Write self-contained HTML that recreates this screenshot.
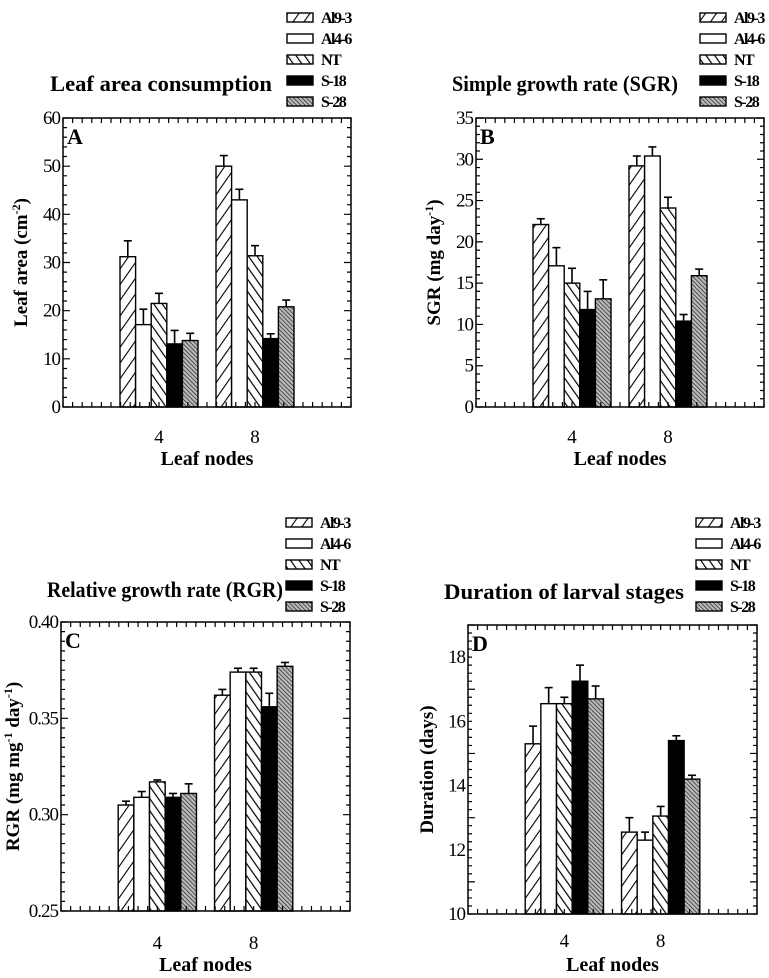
<!DOCTYPE html>
<html><head><meta charset="utf-8"><style>
html,body{margin:0;padding:0;background:#fff;}
svg{display:block;font-family:"Liberation Serif",serif;}
</style></head><body>
<svg id="fig" width="769" height="978" viewBox="0 0 769 978" xmlns="http://www.w3.org/2000/svg">
<defs>
<pattern id="pFwd" patternUnits="userSpaceOnUse" width="9" height="9" patternTransform="rotate(35)"><rect width="9" height="9" fill="#fff"/><line x1="0" y1="0" x2="0" y2="9" stroke="#000" stroke-width="2.2"/></pattern>
<pattern id="pBack" patternUnits="userSpaceOnUse" width="7" height="7" patternTransform="rotate(-35)"><rect width="7" height="7" fill="#fff"/><line x1="0" y1="0" x2="0" y2="7" stroke="#000" stroke-width="2.4"/></pattern>
<pattern id="pDense" patternUnits="userSpaceOnUse" width="3" height="3" patternTransform="rotate(-45)"><rect width="3" height="3" fill="#bbb"/><line x1="0" y1="0" x2="0" y2="3" stroke="#222" stroke-width="1.4"/></pattern>
</defs>
</svg>
<script>
const seriesNames = ["Al9-3","Al4-6","NT","S-18","S-28"];
const categories = [4, 8];
const aValues = [[31.2,17.1,21.5,13.1,13.8],[50,43,31.4,14.2,20.8]];
const aErrors = [[3.3,3.2,2.1,2.8,1.5],[2.2,2.2,2.1,1.0,1.4]];
const bValues = [[22.1,17.1,15.0,11.8,13.1],[29.2,30.4,24.1,10.4,15.9]];
const bErrors = [[0.7,2.2,1.8,2.2,2.3],[1.2,1.1,1.3,0.8,0.8]];
const cValues = [[0.305,0.309,0.317,0.309,0.311],[0.362,0.374,0.374,0.356,0.377]];
const cErrors = [[0.002,0.003,0.001,0.002,0.005],[0.003,0.002,0.002,0.007,0.002]];
const dValues = [[15.3,16.55,16.55,17.25,16.7],[12.55,12.3,13.05,15.4,14.2]];
const dErrors = [[0.55,0.5,0.2,0.5,0.4],[0.45,0.25,0.3,0.15,0.12]];
const aTicks = [0,10,20,30,40,50,60];
const bTicks = [0,5,10,15,20,25,30,35];
const cTicks = ["0.25","0.30","0.35","0.40"];
const dTicks = [10,12,14,16,18];

const NS="http://www.w3.org/2000/svg";
const svg=document.getElementById('fig');
const fills=["url(#pFwd)","#fff","url(#pBack)","#000","url(#pDense)"];
function mk(tag,attrs,parent,text){const e=document.createElementNS(NS,tag);for(const k in attrs)e.setAttribute(k,attrs[k]);if(text!==undefined)e.textContent=text;(parent||svg).appendChild(e);return e;}

function panel(o){
  const g=mk('g',{});
  
  
  const {x,y,w,h,ymin,ymax}=o;
  const sx=v=>x+v/12*w;
  const sy=v=>y+h-(v-ymin)/(ymax-ymin)*h;
  const bw=0.65;
  categories.forEach((c,ci)=>{
    o.values[ci].forEach((v,si)=>{
      const x0=sx(c-2.5*bw+si*bw);
      const yt=sy(v), ye=sy(v+o.errors[ci][si]);
      const cx=x0+bw/12*w/2;
      const el=mk('line',{x1:cx,x2:cx,y1:yt,y2:ye,stroke:'#000','stroke-width':1.6},g);
      
      
      const cap=mk('line',{x1:cx-4,x2:cx+4,y1:ye,y2:ye,stroke:'#000','stroke-width':1.6},g);
      
      
      const r=mk('rect',{x:x0,y:yt,width:bw/12*w,height:sy(ymin)-yt,fill:fills[si],stroke:'#000','stroke-width':1.4},g);
      
      
    });
  });
  const fr=mk('rect',{x:x,y:y,width:w,height:h,fill:'none',stroke:'#000','stroke-width':1.5},g);
  
  
  let p='';
  for(let i=0;i<=30;i++){const tx=x+i*w/30;p+=`M${tx},${y+h}v-5M${tx},${y}v5`;}
  const nMinor=o.minor;
  for(let i=0;i<=nMinor;i++){const ty=y+i*h/nMinor;const major=(o.majorEvery&&i%o.majorEvery===0);const L=major?7:4;p+=`M${x},${ty}h${L}M${x+w},${ty}h-${L}`;}
  mk('path',{d:p,stroke:'#000','stroke-width':1.2,fill:'none'},g);
  o.ticks.forEach(t=>{
    const tl=mk('text',{x:x-3,y:sy(parseFloat(t))+6,'text-anchor':'end','font-size':19,'letter-spacing':'-1'},g,String(t));
    
    
  });
  categories.forEach(c=>{
    const tl=mk('text',{x:sx(c),y:y+h+o.tickOff,'text-anchor':'middle','font-size':19},g,String(c));
    
    
  });
  const lt=mk('text',{x:x+4,y:y+26,'font-size':22,'font-weight':'bold'},g,o.letter);
  
  
  const xt=mk('text',{x:x+w/2,y:y+h+o.titleOff,'text-anchor':'middle','font-size':20,'font-weight':'bold'},g,'Leaf nodes');
  
  
  const yt=mk('text',{x:0,y:0,'text-anchor':'middle','font-size':19,'font-weight':'bold',transform:`translate(${o.ytx},${y+h/2}) rotate(-90)`},g);
  
  
  yt.innerHTML=o.ytitle;
  const ti=mk('text',{x:o.tx,y:o.ty,'font-size':22,'font-weight':'bold','textLength':o.tw,'lengthAdjust':'spacingAndGlyphs'},g,o.title);
  
  
  seriesNames.forEach((n,si)=>{
    const ly=o.ly+si*21;
    const le=mk('g',{},g);
    
    
    mk('rect',{x:o.lx,y:ly-4,width:26,height:9,fill:fills[si],stroke:'#000','stroke-width':1.4},le);
    mk('text',{x:o.lx+34,y:ly+6,'font-size':16,'font-weight':'bold','letter-spacing':'-1.5'},le,n);
  });
}
panel({letter:'A',x:63,y:118,w:288,h:289,ymin:0,ymax:60,values:aValues,errors:aErrors,ticks:aTicks,minor:30,majorEvery:5,tickOff:36,titleOff:58,
  title:'Leaf area consumption',tw:222,tx:50,ty:91,ytx:27,ytitle:'Leaf area (cm<tspan baseline-shift="super" font-size="12">-2</tspan>)',lx:287,ly:17});
panel({letter:'B',x:476,y:118,w:288,h:289,ymin:0,ymax:35,values:bValues,errors:bErrors,ticks:bTicks,minor:35,majorEvery:5,tickOff:36,titleOff:58,
  title:'Simple growth rate (SGR)',tw:226,tx:452,ty:91,ytx:440,ytitle:'SGR (mg day<tspan baseline-shift="super" font-size="12">-1</tspan>)',lx:700,ly:17});
panel({letter:'C',x:61,y:622,w:289,h:289,ymin:0.25,ymax:0.40,values:cValues,errors:cErrors,ticks:cTicks,minor:30,majorEvery:10,tickOff:38,titleOff:60,
  title:'Relative growth rate (RGR)',tw:236,tx:47,ty:597,ytx:19,ytitle:'RGR (mg mg<tspan baseline-shift="super" font-size="12">-1</tspan> day<tspan baseline-shift="super" font-size="12">-1</tspan>)',lx:286,ly:522});
panel({letter:'D',x:468,y:625,w:289,h:289,ymin:10,ymax:19,values:dValues,errors:dErrors,ticks:dTicks,minor:36,majorEvery:8,tickOff:33,titleOff:57,
  title:'Duration of larval stages',tw:240,tx:444,ty:599,ytx:433,ytitle:'Duration (days)',lx:696,ly:522});
</script>
</body></html>
